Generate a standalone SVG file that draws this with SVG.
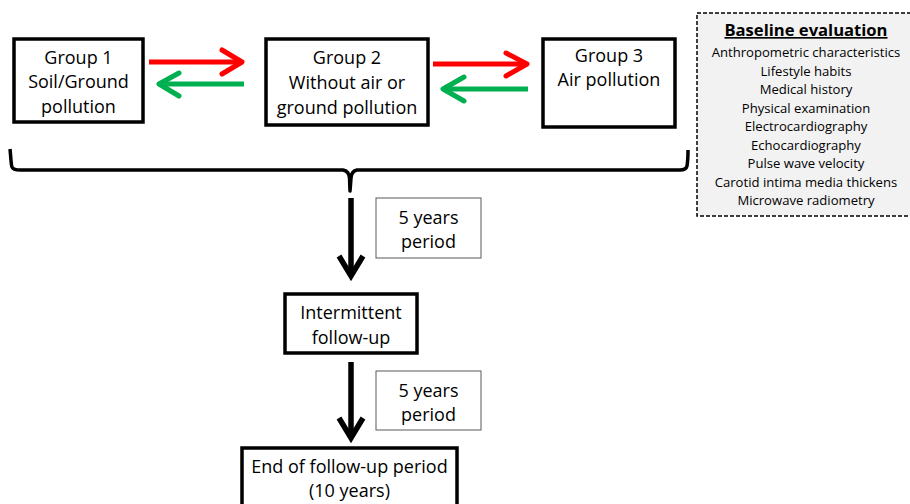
<svg xmlns="http://www.w3.org/2000/svg" width="910" height="504" viewBox="0 0 910 504">
<style>
.box{fill:#fff;stroke:#000;stroke-width:3.5}
.thin{fill:#fff;stroke:#595959;stroke-width:1}
.t{font-family:"Open Sans","Liberation Sans",sans-serif;font-size:18px;fill:#000;text-anchor:middle}
.s{font-family:"Open Sans","Liberation Sans",sans-serif;font-size:13.1px;fill:#000;text-anchor:middle}
.red{stroke:#ff0000;stroke-width:5;fill:none;stroke-linecap:round;stroke-linejoin:round}
.grn{stroke:#00b050;stroke-width:5;fill:none;stroke-linecap:round;stroke-linejoin:round}
.blk{stroke:#000;stroke-width:5.5;fill:none;stroke-linejoin:miter}
</style>
<rect width="910" height="504" fill="#fff"/>
<g id="connectors">
<line class="red" x1="149" y1="62" x2="241" y2="62" style="stroke-linecap:butt"/>
<polyline class="red" points="222,50 242,62 222,74"/>
<line class="grn" x1="244" y1="84" x2="161" y2="84" style="stroke-linecap:butt"/>
<polyline class="grn" points="179,73 159,84 179,96"/>
<line class="red" x1="433" y1="64" x2="526" y2="64" style="stroke-linecap:butt"/>
<polyline class="red" points="506,53 527,64 506,76"/>
<line class="grn" x1="528" y1="89" x2="445" y2="89" style="stroke-linecap:butt"/>
<polyline class="grn" points="464,77 443,89 464,101"/>
<path d="M10,149 C11,158 11,165 12,167 Q13,170 20,170 L343,170 Q349,171 349.5,178 L350,191 L351,178 Q351.5,171 357,170 L680,170 Q686,170 687,166 C688,160 688,156 688,150" fill="none" stroke="#000" stroke-width="3.5" stroke-linejoin="round"/>
<line class="blk" x1="351" y1="198" x2="351" y2="274"/>
<polyline class="blk" points="339,256 351,276 363,256"/>
<line class="blk" x1="351" y1="362" x2="351" y2="436"/>
<polyline class="blk" points="339,418 351,438 363,418"/>
</g>
<g id="group1">
<rect class="box" x="14" y="39" width="129" height="83"/>
<text class="t" x="78.5" y="63.5">Group 1</text>
<text class="t" x="78.5" y="88">Soil/Ground</text>
<text class="t" x="78.5" y="112.5">pollution</text>
</g>
<g id="group2">
<rect class="box" x="266" y="39" width="162" height="86"/>
<text class="t" x="347" y="64">Group 2</text>
<text class="t" x="347" y="89">Without air or</text>
<text class="t" x="347" y="113.5">ground pollution</text>
</g>
<g id="group3">
<rect class="box" x="543" y="39" width="132" height="88"/>
<text class="t" x="609" y="61.5">Group 3</text>
<text class="t" x="609" y="86">Air pollution</text>
</g>
<g id="baseline">
<rect x="697" y="13" width="220" height="203" fill="#f2f2f2" stroke="#000" stroke-width="1.5" stroke-dasharray="4,2"/>
<text class="s" x="806" y="36" style="font-weight:bold;font-size:16.6px;text-decoration:underline">Baseline evaluation</text>
<text class="s" x="806" y="57">Anthropometric characteristics</text>
<text class="s" x="806" y="75.5">Lifestyle habits</text>
<text class="s" x="806" y="94">Medical history</text>
<text class="s" x="806" y="112.5">Physical examination</text>
<text class="s" x="806" y="131">Electrocardiography</text>
<text class="s" x="806" y="149.5">Echocardiography</text>
<text class="s" x="806" y="168">Pulse wave velocity</text>
<text class="s" x="806" y="186.5">Carotid intima media thickens</text>
<text class="s" x="806" y="205">Microwave radiometry</text>
</g>
<g id="period1">
<rect class="thin" x="376" y="198" width="105" height="60"/>
<text class="t" x="428.5" y="223.5">5 years</text>
<text class="t" x="428.5" y="248">period</text>
</g>
<g id="intermittent">
<rect class="box" x="285" y="294" width="132" height="59"/>
<text class="t" x="351" y="318.5">Intermittent</text>
<text class="t" x="351" y="343.5">follow-up</text>
</g>
<g id="period2">
<rect class="thin" x="376" y="371" width="105" height="59"/>
<text class="t" x="428.5" y="396.5">5 years</text>
<text class="t" x="428.5" y="421">period</text>
</g>
<g id="end">
<rect class="box" x="242" y="448" width="215" height="70"/>
<text class="t" x="349.5" y="472.5">End of follow-up period</text>
<text class="t" x="349.5" y="497">(10 years)</text>
</g>
</svg>
